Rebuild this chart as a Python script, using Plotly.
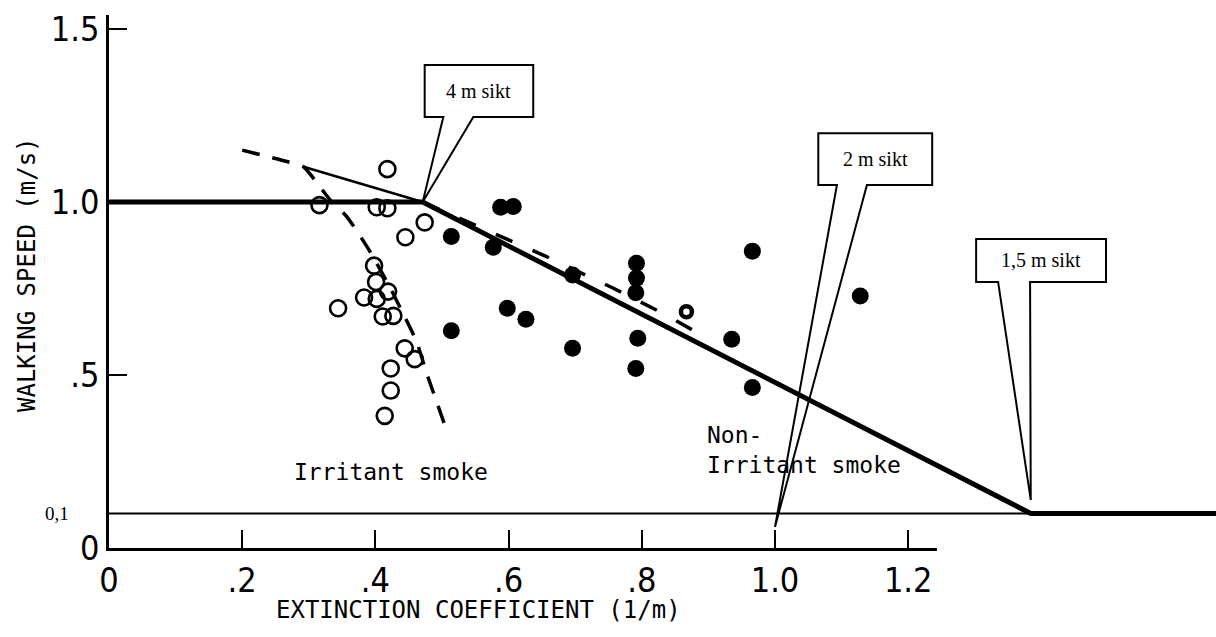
"""
Walking speed vs extinction coefficient (irritant / non-irritant smoke)
"""
import plotly.graph_objects as go

# ── data ────────────────────────────────────────────────────────
# open circles: irritant smoke
irritant_x = [0.418, 0.316, 0.402, 0.418, 0.474, 0.445, 0.398, 0.401, 0.419, 0.383,
              0.402, 0.344, 0.411, 0.427, 0.444, 0.459, 0.423, 0.423, 0.414]
irritant_y = [1.095, 0.991, 0.985, 0.982, 0.941, 0.898, 0.816, 0.769, 0.741, 0.724,
              0.720, 0.693, 0.669, 0.671, 0.577, 0.546, 0.519, 0.455, 0.382]

# filled circles: non-irritant smoke
nonirr_x = [0.588, 0.607, 0.577, 0.514, 0.696, 0.792, 0.792, 0.791, 0.966, 0.598,
            0.626, 0.514, 0.696, 0.794, 0.791, 0.935, 0.966, 1.128]
nonirr_y = [0.985, 0.987, 0.869, 0.900, 0.789, 0.823, 0.780, 0.738, 0.858, 0.693,
            0.661, 0.628, 0.577, 0.606, 0.519, 0.603, 0.464, 0.728]

# ring marker
ring_x = [0.867]
ring_y = [0.683]

# design curve (thick) and 0,1 level
design_x = [0.0, 0.471, 1.384, 1.75]
design_y = [1.0, 1.0, 0.1, 0.1]
floor_x = [0.0, 1.384]
floor_y = [0.1, 0.1]

# thin fitted line from original figure
fit_x = [0.292, 0.471]
fit_y = [1.102, 1.0]

# dashed curves
irr_curve_x = [0.200, 0.267, 0.292, 0.332, 0.357, 0.389, 0.420, 0.449, 0.462, 0.477, 0.505]
irr_curve_y = [1.150, 1.117, 1.102, 1.006, 0.958, 0.866, 0.760, 0.649, 0.596, 0.505, 0.351]
non_curve_x = [0.471, 0.657, 0.755, 0.837, 0.898]
non_curve_y = [1.000, 0.842, 0.753, 0.673, 0.606]

# axis ticks
x_tickvals = [0, 0.2, 0.4, 0.6, 0.8, 1.0, 1.2]
x_ticktext = ["0", ".2", ".4", ".6", ".8", "1.0", "1.2"]
y_tickvals = [0, 0.5, 1.0, 1.5]
y_ticktext = ["0", ".5", "1.0", "1.5"]

# callouts: label, box [x0, x1, y0, y1], pointer base x, tip
callouts = [
    dict(label="4 m sikt", box=[0.474, 0.637, 1.246, 1.396], base=[0.502, 0.547], tip=[0.471, 1.0]),
    dict(label="2 m sikt", box=[1.065, 1.236, 1.049, 1.199], base=[1.093, 1.138], tip=[1.0, 0.061]),
    dict(label="1,5 m sikt", box=[1.302, 1.497, 0.769, 0.893], base=[1.335, 1.383], tip=[1.384, 0.139]),
]

# ── layout constants ────────────────────────────────────────────
W, H = 1216, 637
M_L, M_R, M_T, M_B = 109, 0, 15, 89
PX_X, PX_Y = 666, 346
X_MAX = (W - M_L - M_R) / PX_X
Y_MAX = (H - M_T - M_B) / PX_Y
X_AXIS_END = 1.243

MONO = "DejaVu Sans Mono"
TICKFONT = "DejaVu Sans Condensed, Liberation Sans Narrow, DejaVu Sans"
SERIF = "Liberation Serif"

fig = go.Figure()

# callout shapes (below traces)
for c in callouts:
    x0, x1, y0, y1 = c["box"]
    b0, b1 = c["base"]
    tx, ty = c["tip"]
    path = (f"M{x0},{y1} L{x1},{y1} L{x1},{y0} L{b1},{y0} L{tx},{ty} "
            f"L{b0},{y0} L{x0},{y0} Z")
    fig.add_shape(type="path", path=path, xref="x", yref="y",
                  line=dict(color="black", width=2), fillcolor="white",
                  layer="below")
    fig.add_annotation(x=(x0 + x1) / 2, y=(y0 + y1) / 2, xref="x", yref="y",
                       text=c["label"], showarrow=False,
                       font=dict(family=SERIF, size=20, color="black"))

fig.add_trace(go.Scatter(x=floor_x, y=floor_y, mode="lines",
                         line=dict(color="black", width=2)))
fig.add_trace(go.Scatter(x=fit_x, y=fit_y, mode="lines",
                         line=dict(color="black", width=2.5)))
fig.add_trace(go.Scatter(x=irr_curve_x, y=irr_curve_y, mode="lines",
                         line=dict(color="black", width=3.5, dash="18px,13px", shape="spline",
                                   smoothing=0.5)))
fig.add_trace(go.Scatter(x=non_curve_x, y=non_curve_y, mode="lines",
                         line=dict(color="black", width=3.5, dash="18px,22px")))
fig.add_trace(go.Scatter(x=design_x, y=design_y, mode="lines",
                         line=dict(color="black", width=5)))

# markers sit on the visible x axis (same scale as the data axis)
fig.add_trace(go.Scatter(x=irritant_x, y=irritant_y, mode="markers", xaxis="x2",
                         marker=dict(symbol="circle-open", size=16, color="black",
                                     line=dict(width=2.6, color="black"))))
fig.add_trace(go.Scatter(x=nonirr_x, y=nonirr_y, mode="markers", xaxis="x2",
                         marker=dict(symbol="circle", size=17, color="black")))
fig.add_trace(go.Scatter(x=ring_x, y=ring_y, mode="markers", xaxis="x2",
                         marker=dict(symbol="circle-open", size=11, color="black",
                                     line=dict(width=4.5, color="black"))))

# texts
fig.add_annotation(x=0.275, y=0.22, xref="x", yref="y", text="Irritant smoke",
                   showarrow=False, xanchor="left", yanchor="middle",
                   font=dict(family=MONO, size=23, color="black"))
fig.add_annotation(x=0.895, y=0.283, xref="x", yref="y", text="Non-<br>Irritant smoke",
                   showarrow=False, xanchor="left", yanchor="middle", align="left",
                   font=dict(family=MONO, size=23, color="black"))
fig.add_annotation(x=(71 - M_L) / (W - M_L - M_R), y=0.1, xref="paper", yref="y",
                   text="0,1", showarrow=False, xanchor="right", yanchor="middle",
                   font=dict(family=SERIF, size=19, color="black"))
fig.add_annotation(x=(478 - M_L) / (W - M_L - M_R), y=(H - M_B - 610) / (H - M_T - M_B),
                   xref="paper", yref="paper", text="EXTINCTION COEFFICIENT (1/m)",
                   showarrow=False, yanchor="middle",
                   font=dict(family=MONO, size=24, color="black"))
fig.add_annotation(x=(27 - M_L) / (W - M_L - M_R), y=(H - M_B - 275) / (H - M_T - M_B),
                   xref="paper", yref="paper", text="WALKING SPEED (m/s)",
                   showarrow=False, textangle=-90, xanchor="center", yanchor="middle",
                   font=dict(family=MONO, size=24, color="black"))

fig.update_layout(
    width=W, height=H, showlegend=False,
    paper_bgcolor="white", plot_bgcolor="rgba(0,0,0,0)",
    margin=dict(l=M_L, r=M_R, t=M_T, b=M_B, pad=0),
    xaxis=dict(domain=[0, 1], range=[0, X_MAX], visible=False, fixedrange=True),
    xaxis2=dict(domain=[0, X_AXIS_END / X_MAX], range=[0, X_AXIS_END], anchor="y",
                showline=True, linecolor="black", linewidth=2.5, showgrid=False,
                zeroline=False, ticks="inside", ticklen=18, tickwidth=2,
                tickcolor="black", tickvals=x_tickvals, ticktext=x_ticktext,
                tickfont=dict(family=TICKFONT, size=34, color="black")),
    yaxis=dict(domain=[0, 1], range=[0, Y_MAX], anchor="x",
               showline=True, linecolor="black", linewidth=2.5, showgrid=False,
               zeroline=False, ticks="inside", ticklen=18, tickwidth=2,
               tickcolor="black", tickvals=y_tickvals, ticktext=y_ticktext,
               tickfont=dict(family=TICKFONT, size=34, color="black")),
)

fig.write_html("out.html", config={"displayModeBar": False},
               post_script="document.body.style.margin='0';")
